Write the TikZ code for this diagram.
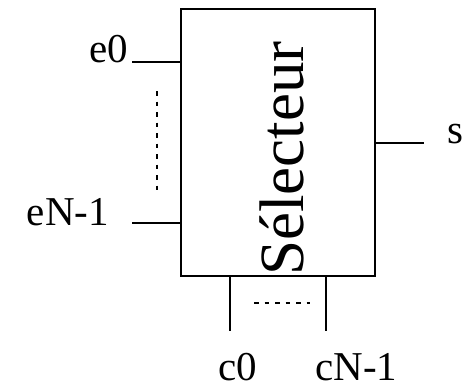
\documentclass[tikz,border=0pt]{standalone}
\usepackage{fontspec}
\setmainfont{Liberation Serif}
\begin{document}
\begin{tikzpicture}[x=1pt,y=-1pt,
  wire/.style={line width=2pt},
  dots/.style={line width=2pt,dash pattern=on 4.5pt off 6pt},
  lbl/.style={inner sep=0pt,text depth=0pt,font=\fontsize{41}{41}\selectfont},
  boxlbl/.style={inner sep=0pt,font=\fontsize{63}{63}\selectfont,rotate=90,anchor=base west}]
\useasboundingbox (0,0) rectangle (464,388);
\draw[wire] (181,9) rectangle (375,276);
\node[boxlbl] (sel) at (303,276) {Sélecteur};
% inputs
\coordinate (e0a) at (132,62); \coordinate (e0b) at (181,62);
\coordinate (eNa) at (132,223); \coordinate (eNb) at (181,223);
\node[lbl,anchor=base east] (le0) at (128,62) {e0};
\node[lbl,anchor=base east] (leN) at (109,225) {eN-1};
\draw[wire] (e0a) -- (e0b);
\draw[wire] (eNa) -- (eNb);
\coordinate (dv1) at (157,91); \coordinate (dv2) at (157,192);
\draw[dots] (dv1) -- (dv2);
% output
\coordinate (sa) at (375,143); \coordinate (sb) at (424,143);
\draw[wire] (sa) -- (sb);
\node[lbl,anchor=base west] (ls) at (447,143) {s};
% commands
\coordinate (c0a) at (230,276); \coordinate (c0b) at (230,331);
\coordinate (cNa) at (326,276); \coordinate (cNb) at (326,331);
\draw[wire] (c0a) -- (c0b);
\draw[wire] (cNa) -- (cNb);
\coordinate (dh1) at (254,303); \coordinate (dh2) at (310,303);
\draw[dots] (dh1) -- (dh2);
\node[lbl,anchor=base west] (lc0) at (218,380) {c0};
\node[lbl,anchor=base west] (lcN) at (315,380) {cN-1};
\end{tikzpicture}
\end{document}
